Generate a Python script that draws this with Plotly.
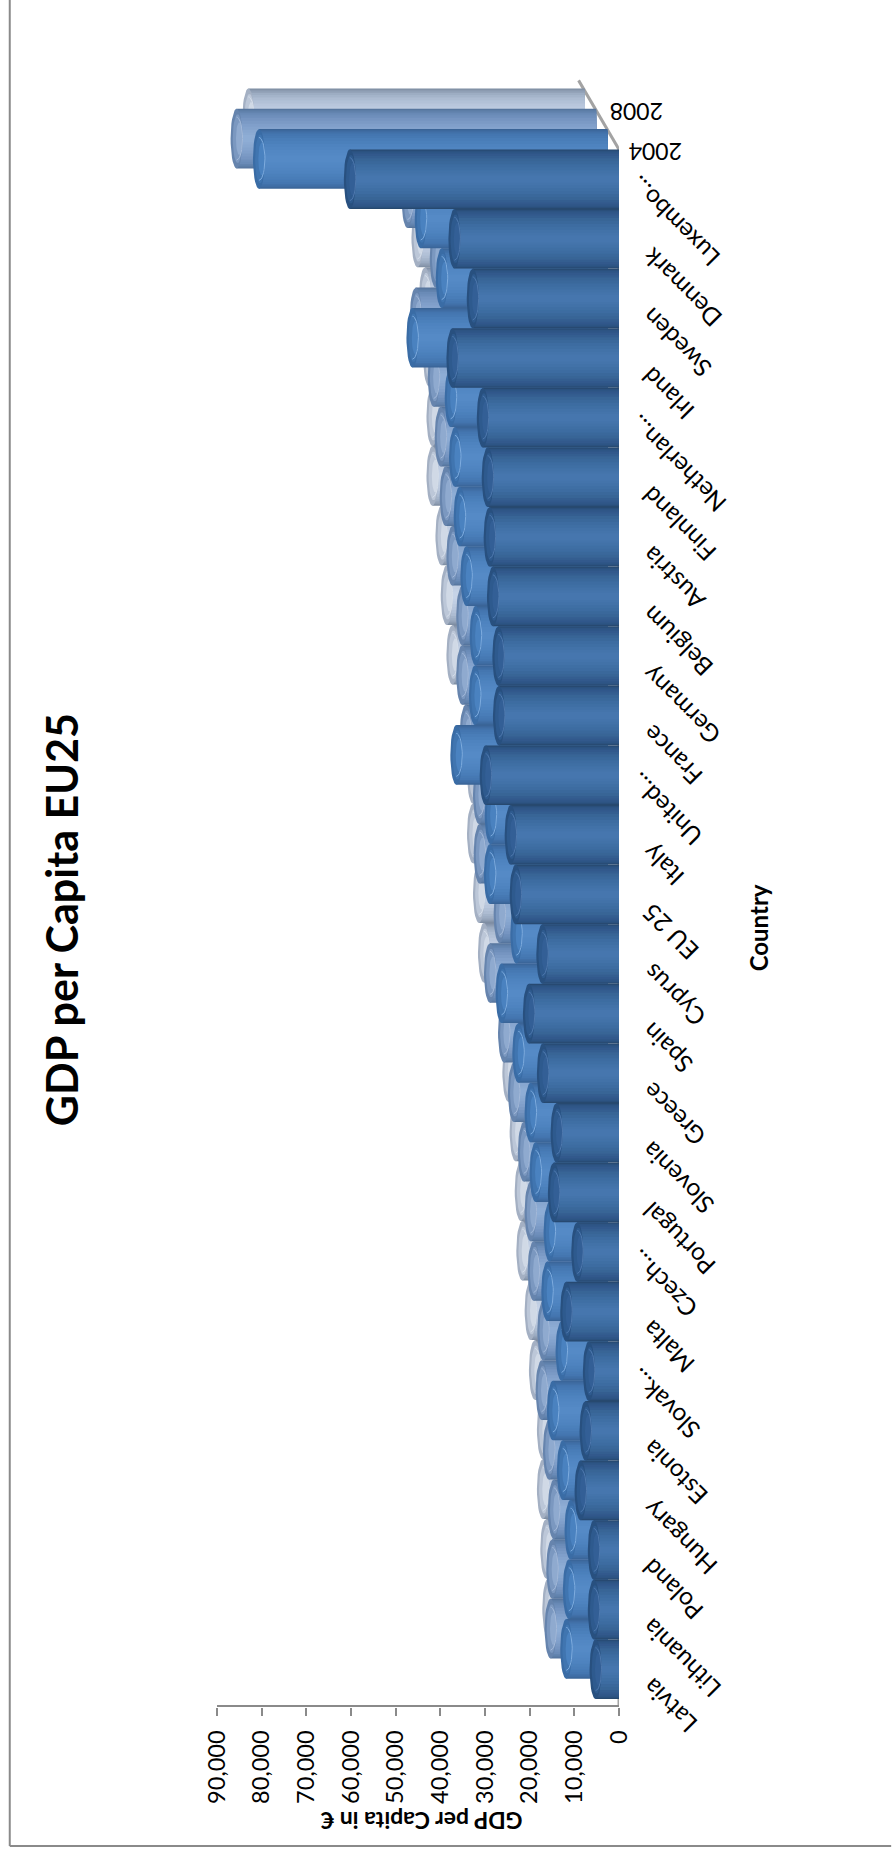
import numpy as np
import plotly.graph_objects as go

countries = ["Latvia", "Lithuania", "Poland", "Hungary", "Estonia", "Slovak...", "Malta", "Czech...",
             "Portugal", "Slovenia", "Greece", "Spain", "Cyprus", "EU 25", "Italy", "United...",
             "France", "Germany", "Belgium", "Austria", "Finnland", "Netherlan...", "Irland",
             "Sweden", "Denmark", "Luxembo..."]

# front to back along the depth axis; only 2004 and 2008 are labelled
gdp_2004 = [5250, 5640, 5640, 8610, 7490, 6750, 11810, 9350, 14580, 13980, 17040, 20170, 17170,
            23140, 24260, 29850, 26880, 27010, 28220, 28960, 29400, 30500, 37300, 32750, 36850, 60260]
gdp_mid = [9260, 8680, 8300, 10020, 12250, 10310, 13500, 12990, 16120, 17240, 19990, 23730, 20440,
           26360, 26180, 33870, 29700, 29540, 31620, 33120, 34170, 35130, 43700, 37140, 41840, 78060]
gdp_2008 = [10220, 9840, 9480, 10580, 12230, 11850, 14010, 14690, 16200, 18430, 20650, 23790, 21630,
            26100, 26250, 29220, 30000, 30000, 32200, 33700, 34820, 36380, 40400, 35930, 42260, 80520]
gdp_back = [8180, 8630, 9390, 9390, 11180, 12140, 14000, 14360, 15500, 17130, 17730, 22590, 23700,
            25040, 25040, 25560, 29650, 30930, 32110, 34120, 34120, 34880, 35780, 37480, 42000, 75330]
series_values = [gdp_back, gdp_2008, gdp_mid, gdp_2004]
series_names = ["back", "2008", "middle", "2004"]
value_ticks = list(range(0, 90001, 10000))

W, H = 892, 1854
PL, PR, PT, PB = 217, 619.5, 30, 1706
Y0_PX, STEP_PX = 1669.2, 59.6          # Latvia centre, category spacing
X_PER_PX = 90000 / (PR - PL)


def px_x(p):
    return (p - PL) / (PR - PL)


def px_y(p):
    return (PB - p) / (PB - PT)


def hex_rgb(c):
    return np.array([int(c[i:i + 2], 16) for i in (1, 3, 5)], dtype=float)


ramp_stops = [1.0, 0.94, 0.85, 0.7, 0.5, 0.3, 0.12]
ramp_widths = [1.0, 0.97, 0.94, 0.9, 0.85, 0.78, 0.7, 0.6, 0.5, 0.4, 0.3, 0.2, 0.12]
body_stops = [
    ["#7f8ea3", "#8d9cb2", "#9dadc3", "#adbcd2", "#b8c6dc", "#c0cee3", "#c6d3e7"],
    ["#56759c", "#5f80aa", "#6a8bb7", "#7695c1", "#809fca", "#88a7d0", "#8eadd5"],
    ["#3a6497", "#3f6ca3", "#4476b0", "#497db8", "#4e83bf", "#5287c3", "#558ac6"],
    ["#27496f", "#2d5483", "#32598c", "#386596", "#3d6ca1", "#4272a8", "#4676ae"],
]


def ramp(stops):
    rgb = np.array([hex_rgb(c) for c in stops])
    out = []
    for w in ramp_widths:
        vals = [np.interp(-w, [-s for s in ramp_stops], rgb[:, k]) for k in range(3)]
        out.append("rgb(%d,%d,%d)" % tuple(vals))
    return out


cap_colors = [
    ["#a4b0c3", "#bcc7d8", "#d0d9e6"],
    ["#6684ad", "#7b98c0", "#8faacf"],
    ["#3a6ca5", "#4075b0", "#4a82c0"],
    ["#28507f", "#2e5a8e", "#335f96"],
]
highlights = ["#d5deea", "#a3b9d9", "#7eacdf", "#4f79ae"]

DEPTH_Y = 20.3 / STEP_PX               # category units per depth step
DEPTH_X = 11.4 * X_PER_PX              # value units per depth step
CAP_RX = 6.0 * X_PER_PX
theta = np.linspace(0, 2 * np.pi, 37)
half = np.linspace(-np.pi / 2, np.pi / 2, 19)
idx = list(range(len(countries)))

fig = go.Figure()

# floor edge running back along the depth axis
fig.add_trace(go.Scatter(
    x=[0, 3.55 * DEPTH_X], y=[len(countries) - 0.5, len(countries) - 0.5 + 3.4 * DEPTH_Y],
    mode="lines", line=dict(color="#a3a3a3", width=3), hoverinfo="skip", showlegend=False, zorder=0))

for s, values in enumerate(series_values):
    depth = 3 - s
    shift = depth * DEPTH_X
    lift = depth * DEPTH_Y
    for w, color in zip(ramp_widths, ramp(body_stops[s])):
        fig.add_trace(go.Bar(
            y=idx, x=values, base=shift, orientation="h", width=w, offset=lift - w / 2,
            marker=dict(color=color, line=dict(width=0)), name=series_names[s],
            showlegend=False, zorder=s + 1))
    for scale, color in zip([1.0, 0.82, 0.55], cap_colors[s]):
        xs, ys = [], []
        for i, v in enumerate(values):
            xs += list(v + shift - (1 - scale) * CAP_RX + CAP_RX * scale * np.cos(theta)) + [None]
            ys += list(i + lift + 0.5 * scale * np.sin(theta)) + [None]
        fig.add_trace(go.Scatter(x=xs, y=ys, mode="lines", fill="toself", fillcolor=color,
                                 line=dict(width=0), hoverinfo="skip", showlegend=False, zorder=s + 1))
    xs, ys = [], []
    for i, v in enumerate(values):
        xs += list(v + shift - CAP_RX * np.cos(half)) + [None]
        ys += list(i + lift + 0.36 * np.sin(half)) + [None]
    fig.add_trace(go.Scatter(x=xs, y=ys, mode="lines", line=dict(color=highlights[s], width=1),
                             hoverinfo="skip", showlegend=False, zorder=s + 1))

annotations = []
FONT = "Lato"
for i, name in enumerate(countries):
    cut = name.endswith("...")
    annotations.append(dict(x=px_x(634), xref="paper", y=i - 0.02, yref="y", text=name, showarrow=False,
                            textangle=-135, xanchor="left", yanchor="top",
                            xshift=-13 if cut else 0, yshift=12 if cut else 0,
                            font=dict(family=FONT, size=24.5, color="#000000")))
for text, px, py in [("2004", 656, 152), ("2008", 637, 112)]:
    annotations.append(dict(x=px_x(px), xref="paper", y=px_y(py), yref="paper", text=text, showarrow=False,
                            textangle=180, xanchor="center", yanchor="middle",
                            font=dict(family=FONT, size=23, color="#000000")))
annotations.append(dict(x=px_x(61), xref="paper", y=px_y(920), yref="paper", text="<b>GDP per Capita EU25</b>",
                        showarrow=False, textangle=-90, xanchor="center", yanchor="middle",
                        font=dict(family=FONT, size=43, color="#000000")))
annotations.append(dict(x=px_x(759), xref="paper", y=px_y(928), yref="paper", text="<b>Country</b>",
                        showarrow=False, textangle=-90, xanchor="center", yanchor="middle",
                        font=dict(family=FONT, size=24, color="#000000")))
annotations.append(dict(x=px_x(422), xref="paper", y=px_y(1821), yref="paper", text="<b>GDP per Capita in €</b>",
                        showarrow=False, textangle=180, xanchor="center", yanchor="middle",
                        font=dict(family=FONT, size=23, color="#000000")))

frame = dict(type="line", xref="paper", yref="paper", line=dict(color="#8a8a8a", width=2))
shapes = [
    dict(frame, x0=px_x(9.5), x1=px_x(9.5), y0=px_y(1846), y1=px_y(0)),
    dict(frame, x0=px_x(9.5), x1=px_x(892), y0=px_y(1846), y1=px_y(1846)),
    dict(frame, x0=0, x1=1, y0=0, y1=0),
]

fig.update_layout(
    width=W, height=H, autosize=False, barmode="overlay", showlegend=False,
    paper_bgcolor="#ffffff", plot_bgcolor="#ffffff",
    margin=dict(l=PL, r=W - PR, t=PT, b=H - PB, pad=0),
    annotations=annotations, shapes=shapes,
    xaxis=dict(range=[90000, 0], tickmode="array", tickvals=value_ticks,
               ticktext=[f"{v:,}" for v in value_ticks], tickangle=-90, ticks="outside", ticklen=8,
               tickwidth=2, tickcolor="#8a8a8a", showline=True, linecolor="#8a8a8a", linewidth=2,
               showgrid=False, zeroline=False, ticklabelstandoff=5,
               tickfont=dict(family=FONT, size=23.5, color="#000000")),
    yaxis=dict(range=[-(PB - Y0_PX) / STEP_PX, (Y0_PX - PT) / STEP_PX], side="right",
               showticklabels=False, ticks="", showgrid=False, zeroline=False, showline=False),
)
# axis edge along the category axis
fig.add_trace(go.Scatter(x=[0, 0], y=[-(PB - Y0_PX) / STEP_PX, len(countries) - 0.5], mode="lines",
                         line=dict(color="#a3a3a3", width=3), hoverinfo="skip", showlegend=False, zorder=0))

fig.write_html("out.html", config={"displayModeBar": False},
               post_script="document.body.style.margin='0';document.body.style.overflow='hidden';")
